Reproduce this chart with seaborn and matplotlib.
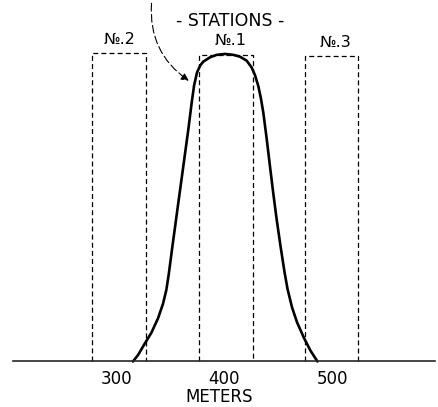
import numpy as np
import pandas as pd
import matplotlib
matplotlib.use("Agg")
import matplotlib.pyplot as plt
import seaborn as sns

# resonance curve of the receiver (meters, relative response)
meters = [315.7, 320.4, 326.6, 332.7, 338.9, 343.5, 346.6, 348.8, 350.6, 352.4,
          355.2, 357.7, 360.8, 363.9, 366.9, 370.1, 372.3, 375.0, 378.0, 380.8,
          387.0, 393.2, 400.9, 408.6, 414.8, 421.0, 425.6, 428.7, 431.8, 434.2,
          436.4, 439.5, 442.6, 445.6, 448.8, 452.3, 456.0, 458.8, 463.0, 467.6,
          473.8, 479.9, 486.5]
response = [0.0, 0.021, 0.058, 0.093, 0.140, 0.187, 0.232, 0.282, 0.330, 0.378,
            0.450, 0.515, 0.594, 0.674, 0.751, 0.840, 0.895, 0.937, 0.960, 0.972,
            0.986, 0.994, 0.997, 0.994, 0.988, 0.975, 0.953, 0.928, 0.892, 0.852,
            0.806, 0.722, 0.631, 0.545, 0.459, 0.374, 0.290, 0.235, 0.175, 0.127,
            0.078, 0.036, 0.0]

# stations (dashed boxes)
station_names = ["№.2", "№.1", "№.3"]
box_left = [278, 377, 475]
box_right = [328, 427, 524]
box_top = [1.0, 0.995, 0.99]
label_x = [303.5, 406, 503.5]

tick_values = [300, 400, 500]
tick_labels = ["300", "400", "500"]

sns.set_style("white")
plt.rcParams["font.family"] = ["DejaVu Sans"]
plt.rcParams["text.color"] = "black"
plt.rcParams["xtick.color"] = "black"
plt.rcParams["axes.labelcolor"] = "black"

fig = plt.figure(figsize=(4.38, 4.07), dpi=100)
ax = fig.add_axes([0, 0, 1, 1])
ax.set_xlim(192.6, 598.1)
ax.set_ylim(-0.1475, 1.1718)

# station boxes
for l, r, h in zip(box_left, box_right, box_top):
    ax.plot([l, l, r, r], [0, h, h, 0], color="black", lw=0.9,
            linestyle=(0, (4, 2.5)))

df = pd.DataFrame({"meters": meters, "response": response})
sns.lineplot(data=df, x="meters", y="response", color="black", lw=1.9,
             sort=False, ax=ax, solid_joinstyle="round")

# labels above boxes
for name, x, h in zip(station_names, label_x, box_top):
    ax.text(x, h + 0.045, name, ha="center", va="center", fontsize=11.5)
ax.text(406, 1.104, "- STATIONS -", ha="center", va="center", fontsize=12.5)

# arrow pointing at the curve
ax.annotate("", xy=(369.5, 0.905), xytext=(333.1, 1.17),
            arrowprops=dict(arrowstyle="-|>", color="black", lw=0.8,
                            linestyle=(0, (7, 3)), mutation_scale=11,
                            connectionstyle="arc3,rad=0.3"))

# axis styling
for side in ["top", "right", "left"]:
    ax.spines[side].set_visible(False)
ax.spines["bottom"].set_position(("data", 0))
ax.spines["bottom"].set_bounds(205, 595)
ax.spines["bottom"].set_linewidth(1.2)
ax.set_yticks([])
ax.set_xticks(tick_values)
ax.set_xticklabels(tick_labels, fontsize=12)
ax.tick_params(axis="x", length=0, pad=6)
ax.set_xlabel("METERS", fontsize=12, labelpad=0)
ax.set_ylabel("")

fig.savefig("out.png", dpi=100)
